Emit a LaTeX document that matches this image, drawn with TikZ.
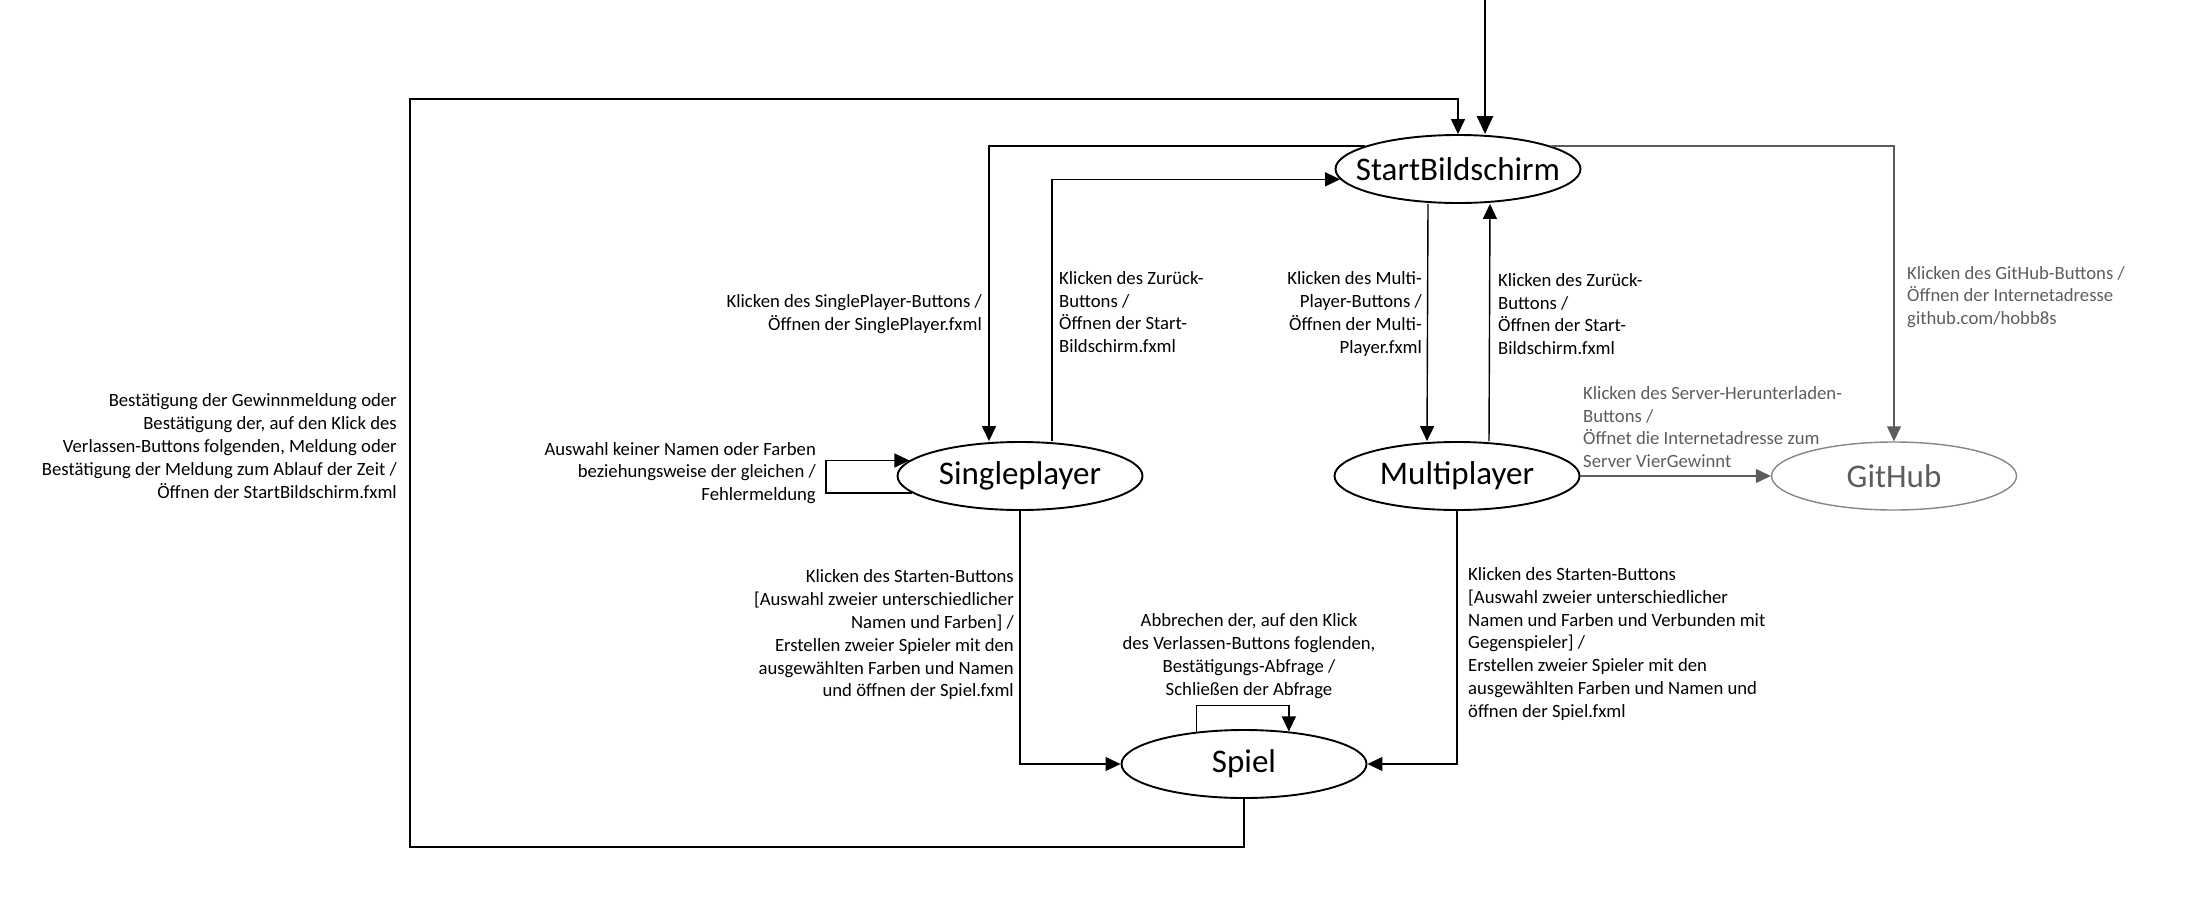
\documentclass[tikz,border=0pt]{standalone}
\usepackage{fontspec}
\setmainfont{Carlito}
\usepackage{tikz}
\usetikzlibrary{arrows.meta}
\usetikzlibrary{shapes.geometric}
\definecolor{hub_gray}{rgb}{0.36,0.36,0.36}

\begin{document}
\begin{tikzpicture}[x=1pt,y=-1pt,
  screen/.style={ellipse,draw,line width=1.9pt,minimum width=245pt,minimum height=68pt,inner sep=0pt,font=\fontsize{33}{40}\selectfont},
  screen_gray/.style={screen,draw=hub_gray!75,line width=1.4pt,text=hub_gray},
  trans/.style={draw,line width=1.4pt,-{Triangle[length=15pt,width=14pt]}},
  trans_gray/.style={trans,draw=hub_gray,line width=1.2pt},
  lbl/.style={inner sep=0pt,font=\fontsize{18.7}{22.8}\selectfont},
  lbl_gray/.style={lbl,text=hub_gray}
  ]

\useasboundingbox (0,0) rectangle (2206,913);

% screens
\node[screen] (start) at (1458,169) {\makebox[0pt]{StartBildschirm}};
\node[screen] (single) at (1020,476) {\makebox[0pt]{Singleplayer}};
\node[screen] (multi) at (1457,476) {\makebox[0pt]{Multiplayer}};
\node[screen_gray] (github) at (1894,476) {\makebox[0pt]{GitHub}};
\node[screen] (spiel) at (1244,764) {\makebox[0pt]{Spiel}};

\coordinate (entry) at (1485,0);
\coordinate (back) at (410,847);
\coordinate (backtop) at (410,99);
\coordinate (sploop) at (826,0);

% text
\node[lbl,anchor=east,align=right] (l_spbtn) at (982,314) {Klicken des SinglePlayer-Buttons /\\Öffnen der SinglePlayer.fxml};
\node[lbl,anchor=west,align=left] (l_spback) at (1059,312) {Klicken des Zurück-\\Buttons /\\Öffnen der Start-\\Bildschirm.fxml};
\node[lbl,anchor=east,align=right] (l_mpbtn) at (1422,314) {Klicken des Multi-\\Player-Buttons /\\Öffnen der Multi-\\Player.fxml};
\node[lbl,anchor=west,align=left] (l_mpback) at (1498,314) {Klicken des Zurück-\\Buttons /\\Öffnen der Start-\\Bildschirm.fxml};
\node[lbl_gray,anchor=west,align=left] (l_hub) at (1907,297) {Klicken des GitHub-Buttons /\\Öffnen der Internetadresse\\github.com/hobb8s};
\node[lbl_gray,anchor=west,align=left] (l_server) at (1583,427) {Klicken des Server-Herunterladen-\\Buttons /\\Öffnet die Internetadresse zum\\Server VierGewinnt};
\node[lbl,anchor=east,align=right] (l_error) at (816,473) {Auswahl keiner Namen oder Farben\\beziehungsweise der gleichen /\\Fehlermeldung};
\node[lbl,anchor=east,align=right] (l_back) at (397,446) {Bestätigung der Gewinnmeldung oder\\Bestätigung der, auf den Klick des\\Verlassen-Buttons folgenden, Meldung oder\\Bestätigung der Meldung zum Ablauf der Zeit /\\Öffnen der StartBildschirm.fxml};
\node[lbl,anchor=east,align=right] (l_spstart) at (1014,635) {Klicken des Starten-Buttons\\{[}Auswahl zweier unterschiedlicher\\Namen und Farben] /\\Erstellen zweier Spieler mit den\\ausgewählten Farben und Namen\\und öffnen der Spiel.fxml};
\node[lbl,align=center] (l_abort) at (1249,656) {Abbrechen der, auf den Klick\\des Verlassen-Buttons foglenden,\\Bestätigungs-Abfrage /\\Schließen der Abfrage};
\node[lbl,anchor=west,align=left] (l_mpstart) at (1468,644) {Klicken des Starten-Buttons\\{[}Auswahl zweier unterschiedlicher\\Namen und Farben und Verbunden mit\\Gegenspieler] /\\Erstellen zweier Spieler mit den\\ausgewählten Farben und Namen und\\öffnen der Spiel.fxml};

% vertical
\draw[trans,line width=2.4pt,-{Triangle[length=18pt,width=16pt]}] (entry) -- (entry |- start.north);
\draw[trans] (start.166) -| ([xshift=-31pt]single.north);
\draw[trans] ([xshift=32pt]single.north) |- (start.185);
\draw[trans] ([xshift=-30pt]start.south) -- ([xshift=-30pt]multi.north);
\draw[trans] ([xshift=32pt]multi.north) -- ([xshift=32pt]start.south);
\draw[trans] (single.south) |- (spiel.west);
\draw[trans] (multi.south) |- (spiel.east);

% loops
\draw[trans] (single.189) -- (single.189 -| sploop) -- (single.172 -| sploop) -- (single.172);
\draw[trans] (spiel.146) -- ++(0,-26) -| (spiel.36);
\draw[trans] (spiel.south) |- (back) -- (backtop) -| (start.north);

% github
\draw[trans_gray] (start.14) -| (github.north);
\draw[trans_gray] (multi.east) -- (github.west);

\end{tikzpicture}
\end{document}
